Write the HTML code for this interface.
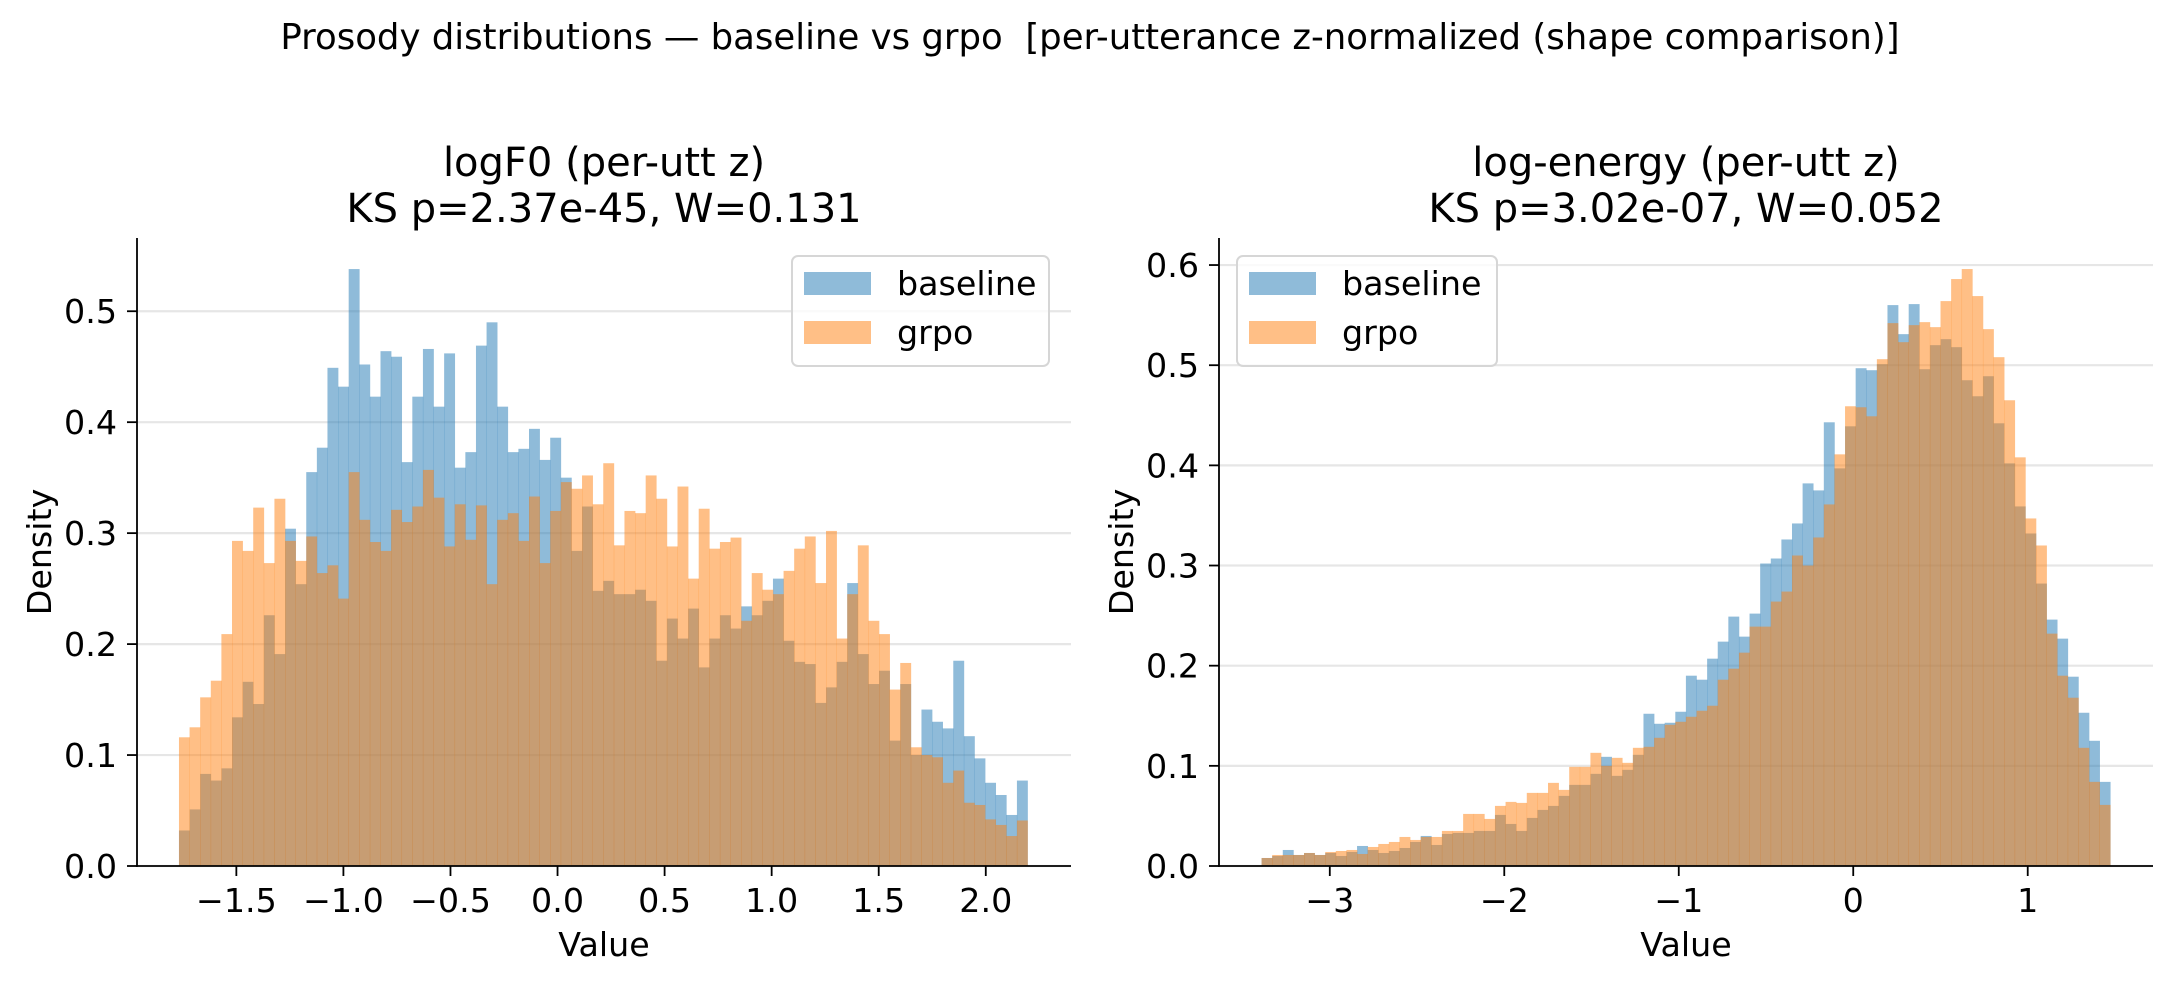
<!DOCTYPE html>
<html><head><meta charset="utf-8"><title>Prosody distributions</title>
<style>
html,body{margin:0;padding:0;background:#fff;}
svg{display:block;font-family:"DejaVu Sans","Liberation Sans",sans-serif;}
</style></head>
<body>
<svg id="chart" width="2167" height="983" viewBox="0 0 2167 983" xmlns="http://www.w3.org/2000/svg">
<text x="1090" y="49" font-size="35.5" text-anchor="middle" style="white-space:pre" xml:space="preserve">Prosody distributions — baseline vs grpo  [per-utterance z-normalized (shape comparison)]</text>
</svg>
<script>
// ---- Panel 1: logF0 ----
const f0Range = [-1.768, 2.195];
const f0Baseline = [0.032,0.051,0.083,0.077,0.088,0.134,0.166,0.146,0.226,0.191,0.304,0.254,0.355,0.377,0.449,0.432,0.538,0.452,0.423,0.464,0.459,0.364,0.423,0.466,0.414,0.462,0.359,0.373,0.469,0.490,0.414,0.373,0.376,0.394,0.366,0.386,0.350,0.284,0.324,0.248,0.257,0.245,0.245,0.249,0.239,0.185,0.223,0.205,0.232,0.179,0.205,0.226,0.214,0.234,0.226,0.239,0.259,0.203,0.184,0.182,0.147,0.161,0.184,0.255,0.191,0.164,0.176,0.113,0.164,0.100,0.141,0.130,0.124,0.185,0.117,0.097,0.075,0.064,0.046,0.077];
const f0Grpo = [0.116,0.125,0.152,0.167,0.209,0.293,0.284,0.323,0.273,0.331,0.293,0.275,0.297,0.264,0.271,0.241,0.355,0.312,0.292,0.284,0.321,0.310,0.324,0.357,0.332,0.288,0.326,0.294,0.325,0.254,0.312,0.318,0.293,0.333,0.273,0.320,0.346,0.340,0.352,0.326,0.363,0.289,0.320,0.318,0.352,0.331,0.288,0.342,0.259,0.322,0.286,0.292,0.296,0.221,0.264,0.249,0.245,0.266,0.286,0.297,0.255,0.302,0.205,0.245,0.289,0.221,0.209,0.159,0.183,0.107,0.100,0.098,0.075,0.086,0.057,0.055,0.042,0.037,0.027,0.041];
const f0XTicks = [-1.5,-1.0,-0.5,0.0,0.5,1.0,1.5,2.0];
const f0XTickLabels = ["−1.5","−1.0","−0.5","0.0","0.5","1.0","1.5","2.0"];
const f0YTicks = [0.0,0.1,0.2,0.3,0.4,0.5];
const f0YTickLabels = ["0.0","0.1","0.2","0.3","0.4","0.5"];
// ---- Panel 2: log-energy ----
const enRange = [-3.391, 1.473];
const enBaseline = [0.008,0.010,0.016,0.011,0.013,0.011,0.013,0.010,0.014,0.020,0.016,0.013,0.015,0.018,0.024,0.030,0.021,0.032,0.033,0.033,0.035,0.035,0.051,0.042,0.035,0.048,0.056,0.060,0.070,0.081,0.081,0.092,0.109,0.090,0.096,0.111,0.152,0.142,0.143,0.154,0.190,0.186,0.207,0.224,0.249,0.229,0.252,0.302,0.307,0.326,0.342,0.382,0.375,0.443,0.397,0.439,0.497,0.495,0.501,0.560,0.531,0.561,0.496,0.520,0.526,0.518,0.485,0.469,0.489,0.442,0.402,0.359,0.332,0.282,0.246,0.227,0.189,0.153,0.125,0.084];
const enGrpo = [0.008,0.011,0.011,0.011,0.013,0.011,0.014,0.015,0.016,0.012,0.019,0.022,0.024,0.029,0.026,0.029,0.029,0.035,0.035,0.052,0.052,0.047,0.060,0.064,0.063,0.073,0.073,0.083,0.076,0.099,0.099,0.113,0.100,0.108,0.103,0.118,0.119,0.128,0.141,0.144,0.149,0.155,0.160,0.186,0.197,0.213,0.239,0.239,0.264,0.274,0.310,0.300,0.328,0.361,0.411,0.459,0.458,0.449,0.506,0.542,0.523,0.540,0.543,0.538,0.564,0.586,0.596,0.569,0.536,0.508,0.465,0.408,0.347,0.320,0.232,0.190,0.168,0.118,0.084,0.061];
const enXTicks = [-3,-2,-1,0,1];
const enXTickLabels = ["−3","−2","−1","0","1"];
const enYTicks = [0.0,0.1,0.2,0.3,0.4,0.5,0.6];
const enYTickLabels = ["0.0","0.1","0.2","0.3","0.4","0.5","0.6"];

const NS = "http://www.w3.org/2000/svg";
const svg = document.getElementById('chart');
function mk(tag, attrs, parent){
  const e = document.createElementNS(NS, tag);
  for (const k in attrs) e.setAttribute(k, attrs[k]);
  (parent||svg).appendChild(e);
  return e;
}

function panel(cfg){
  const g = mk('g', {});
  
  
  const L=cfg.left, R=cfg.right, T=cfg.top, B=cfg.bottom;
  const xs = v => L + (v - cfg.xmin) / (cfg.xmax - cfg.xmin) * (R - L);
  const ys = v => B - (v - cfg.ymin) / (cfg.ymax - cfg.ymin) * (B - T);
  cfg.yTicks.forEach((t,i) => {
    const gl = mk('line', {x1:L, x2:R, y1:ys(t), y2:ys(t), stroke:'#e6e6e6', 'stroke-width':2.2}, g);
    
    
  });
  const series = [[cfg.baseline,'#1f77b4','baseline'],[cfg.grpo,'#ff7f0e','grpo']];
  series.forEach(([vals,col,nm]) => {
    const n = vals.length, w = (cfg.range[1]-cfg.range[0])/n;
    vals.forEach((v,i) => {
      const x0 = xs(cfg.range[0]+i*w), x1 = xs(cfg.range[0]+(i+1)*w);
      const r = mk('rect', {x:x0, y:ys(v), width:(x1-x0)+0.3, height:ys(0)-ys(v), fill:col, 'fill-opacity':0.5}, g);
      
      
    });
  });
  const sl = mk('line', {x1:L, x2:L, y1:T, y2:B+0.9, stroke:'#000', 'stroke-width':1.8}, g);
  
  
  const sb = mk('line', {x1:L-0.9, x2:R, y1:B, y2:B, stroke:'#000', 'stroke-width':1.8}, g);
  
  
  cfg.xTicks.forEach((t,i) => {
    const tl = mk('line', {x1:xs(t), x2:xs(t), y1:B, y2:B+10, stroke:'#000', 'stroke-width':1.8}, g);
    
    
    const tx = mk('text', {x:xs(t), y:B+46, 'font-size':33.3, 'text-anchor':'middle'}, g);
    
    
    tx.textContent = cfg.xTickLabels[i];
  });
  cfg.yTicks.forEach((t,i) => {
    const tl = mk('line', {x1:L-10, x2:L, y1:ys(t), y2:ys(t), stroke:'#000', 'stroke-width':1.8}, g);
    
    
    const tx = mk('text', {x:L-20, y:ys(t)+12, 'font-size':33.3, 'text-anchor':'end'}, g);
    
    
    tx.textContent = cfg.yTickLabels[i];
  });
  const xl = mk('text', {x:(L+R)/2, y:956, 'font-size':33.3, 'text-anchor':'middle'}, g);
  
  
  xl.textContent = 'Value';
  const yl = mk('text', {x:0, y:0, 'font-size':33.3, 'text-anchor':'middle', transform:`translate(${L-86},${(T+B)/2}) rotate(-90)`}, g);
  
  
  yl.textContent = 'Density';
  const t1 = mk('text', {x:(L+R)/2, y:176, 'font-size':40, 'text-anchor':'middle'}, g);
  
  
  t1.textContent = cfg.title1;
  const t2 = mk('text', {x:(L+R)/2, y:222, 'font-size':40, 'text-anchor':'middle'}, g);
  
  
  t2.textContent = cfg.title2;
  const lg = mk('g', {}, g);
  
  
  const lx = cfg.legX;
  mk('rect', {x:lx, y:256, width:cfg.legW, height:110, rx:6, fill:'#fff', 'fill-opacity':0.8, stroke:'#d6d6d6', 'stroke-width':2}, lg);
  [['baseline','#1f77b4',272],['grpo','#ff7f0e',321]].forEach(([nm,col,y]) => {
    const e = mk('g', {}, lg);
    
    
    mk('rect', {x:lx+12, y:y, width:67, height:23, fill:col, 'fill-opacity':0.5}, e);
    const tx = mk('text', {x:lx+105, y:y+23, 'font-size':33.3}, e);
    tx.textContent = nm;
  });
}

panel({name:'logf0-panel', left:137, right:1071, top:238, bottom:866,
  xmin:-1.964, xmax:2.398, ymin:0, ymax:0.566, range:f0Range,
  baseline:f0Baseline, grpo:f0Grpo, xTicks:f0XTicks, xTickLabels:f0XTickLabels,
  yTicks:f0YTicks, yTickLabels:f0YTickLabels,
  title1:'logF0 (per-utt z)', title2:'KS p=2.37e-45, W=0.131', legX:792, legW:257});
panel({name:'log-energy-panel', left:1219, right:2153, top:238, bottom:866,
  xmin:-3.635, xmax:1.718, ymin:0, ymax:0.627, range:enRange,
  baseline:enBaseline, grpo:enGrpo, xTicks:enXTicks, xTickLabels:enXTickLabels,
  yTicks:enYTicks, yTickLabels:enYTickLabels,
  title1:'log-energy (per-utt z)', title2:'KS p=3.02e-07, W=0.052', legX:1237, legW:260});
</script>
</body></html>
